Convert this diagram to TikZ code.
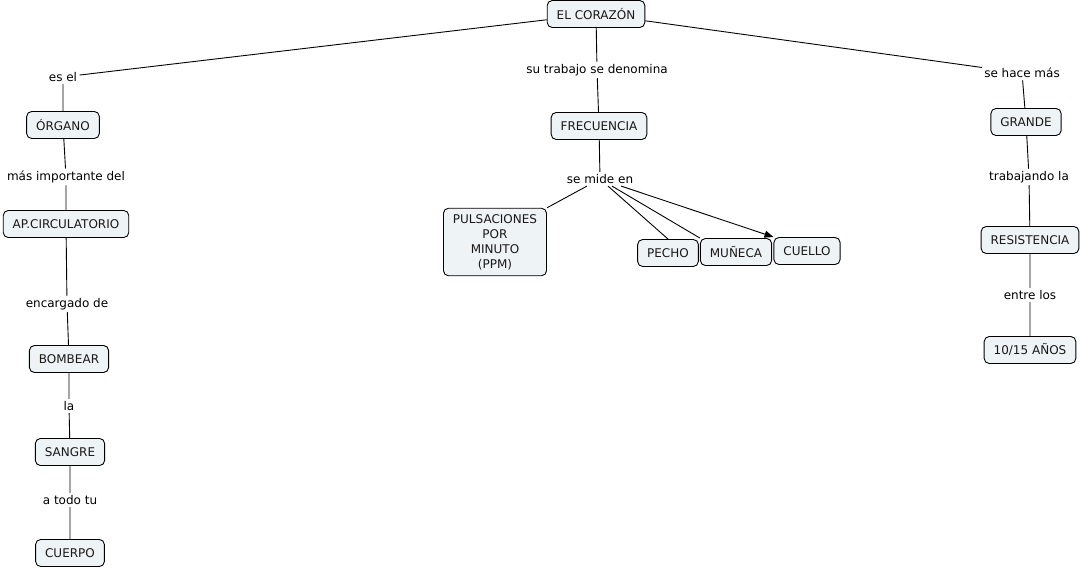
\documentclass[tikz,border=0pt]{standalone}
\usepackage{fontspec}
\setmainfont{DejaVu Sans}
\usetikzlibrary{arrows.meta}

\definecolor{fondoconcepto}{RGB}{238,243,245}

\begin{document}
\begin{tikzpicture}[x=1pt, y=-1pt, >={Triangle[length=9pt, width=7pt]}, line width=0.9pt,
  concepto/.style={draw, rounded corners=5pt, fill=fondoconcepto, font=\fontsize{12}{15}\selectfont,
    inner xsep=9.5pt, inner ysep=4pt, minimum height=27pt, align=center, text=black!90},
  enlace/.style={inner sep=2pt, font=\fontsize{12}{14}\selectfont}]
  \useasboundingbox (0,0) rectangle (1081,569);

  % Definir los conceptos
  \node[concepto] (corazon) at (596,14) {EL CORAZÓN};
  \node[concepto] (organo) at (63,125) {ÓRGANO};
  \node[concepto] (aparato) at (66,224) {AP.CIRCULATORIO};
  \node[concepto] (bombear) at (69,359) {BOMBEAR};
  \node[concepto] (sangre) at (70,452) {SANGRE};
  \node[concepto] (cuerpo) at (70,553) {CUERPO};
  \node[concepto] (frecuencia) at (599,126) {FRECUENCIA};
  \node[concepto, inner ysep=6pt] (ppm) at (495,242) {PULSACIONES\\POR\\MINUTO\\(PPM)};
  \node[concepto] (pecho) at (668,253) {PECHO};
  \node[concepto] (muneca) at (736,252) {MUÑECA};
  \node[concepto] (cuello) at (807,251) {CUELLO};
  \node[concepto] (grande) at (1026,122) {GRANDE};
  \node[concepto] (resistencia) at (1030,240) {RESISTENCIA};
  \node[concepto] (anios) at (1030,350) {10/15 AÑOS};

  % Frases de enlace
  \node[enlace] (esel) at (63,77) {es el};
  \node[enlace] (importante) at (66,177) {más importante del};
  \node[enlace] (encargado) at (67,304) {encargado de};
  \node[enlace] (la) at (69,406) {la};
  \node[enlace] (todotu) at (70,500) {a todo tu};
  \node[enlace] (trabajo) at (597,70) {su trabajo se denomina};
  \node[enlace] (semide) at (600,179) {se mide en};
  \node[enlace] (hacemas) at (1022,73) {se hace más};
  \node[enlace] (trabajando) at (1029,177) {trabajando la};
  \node[enlace] (entre) at (1030,295) {entre los};

  % Dibujar las conexiones
  \draw (corazon) -- (esel) -- (organo) -- (importante) -- (aparato)
    -- (encargado) -- (bombear) -- (la) -- (sangre) -- (todotu) -- (cuerpo);
  \draw (corazon) -- (trabajo) -- (frecuencia) -- (semide);
  \draw (semide) -- (ppm.north east);
  \draw (semide) -- (pecho.north);
  \draw (semide) -- (muneca.north west);
  \draw[->] (semide) -- (cuello.north west);
  \draw (corazon) -- (hacemas) -- (grande) -- (trabajando) -- (resistencia)
    -- (entre) -- (anios);
\end{tikzpicture}
\end{document}
